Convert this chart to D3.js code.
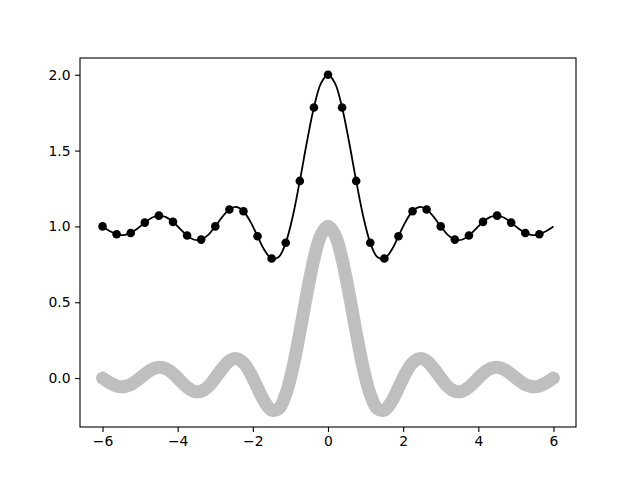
<!DOCTYPE html>
<html><head><meta charset="utf-8">
<script src="https://cdn.jsdelivr.net/npm/d3@7"></script>
<style>body{margin:0;background:#fff}svg{display:block}text{font-family:"DejaVu Sans",sans-serif}</style>
</head><body>
<script>
// x sample positions (step 0.1875 from -6 to 6)
const xValues = [-6,-5.8125,-5.625,-5.4375,-5.25,-5.0625,-4.875,-4.6875,-4.5,-4.3125,-4.125,-3.9375,-3.75,-3.5625,-3.375,-3.1875,-3,-2.8125,-2.625,-2.4375,-2.25,-2.0625,-1.875,-1.6875,-1.5,-1.3125,-1.125,-0.9375,-0.75,-0.5625,-0.375,-0.1875,0,0.1875,0.375,0.5625,0.75,0.9375,1.125,1.3125,1.5,1.6875,1.875,2.0625,2.25,2.4375,2.625,2.8125,3,3.1875,3.375,3.5625,3.75,3.9375,4.125,4.3125,4.5,4.6875,4.875,5.0625,5.25,5.4375,5.625,5.8125,6];
// grey curve values
const greyValues = [0,-0.030,-0.052,-0.057,-0.043,-0.012,0.025,0.057,0.071,0.061,0.030,-0.016,-0.060,-0.088,-0.087,-0.056,0,0.063,0.112,0.128,0.100,0.030,-0.065,-0.157,-0.212,-0.202,-0.108,0.066,0.300,0.555,0.784,0.943,1,0.943,0.784,0.555,0.300,0.066,-0.108,-0.202,-0.212,-0.157,-0.065,0.030,0.100,0.128,0.112,0.063,0,-0.056,-0.087,-0.088,-0.060,-0.016,0.030,0.061,0.071,0.057,0.025,-0.012,-0.043,-0.057,-0.052,-0.030,0];
// black curve values
const blackValues = [1,0.970,0.948,0.943,0.957,0.988,1.025,1.057,1.071,1.061,1.030,0.984,0.940,0.912,0.913,0.944,1,1.063,1.112,1.128,1.100,1.030,0.935,0.843,0.788,0.798,0.892,1.066,1.300,1.555,1.784,1.943,2,1.943,1.784,1.555,1.300,1.066,0.892,0.798,0.788,0.843,0.935,1.030,1.100,1.128,1.112,1.063,1,0.944,0.913,0.912,0.940,0.984,1.030,1.061,1.071,1.057,1.025,0.988,0.957,0.943,0.948,0.970,1];
const xTicks = [-6,-4,-2,0,2,4,6];
const yTicks = [0.0,0.5,1.0,1.5,2.0];

const W=640,H=480, L=80,R=576,T=58,B=427;
const svg=d3.select("body").append("svg").attr("width",W).attr("height",H);
const x=d3.scaleLinear().domain([-6.6,6.6]).range([L,R]);
const y=d3.scaleLinear().domain([-0.3228,2.1106]).range([B,T]);
const pts=xValues.map((v,i)=>({x:v,g:greyValues[i],b:blackValues[i],i}));

const clip=svg.append("clipPath").attr("id","c").append("rect").attr("x",L).attr("y",T).attr("width",R-L).attr("height",B-T);
const g=svg.append("g").attr("clip-path","url(#c)");
g.append("path").datum(pts).attr("fill","none").attr("stroke","#bfbfbf").attr("stroke-width",13)
 .attr("stroke-linecap","round").attr("stroke-linejoin","round")
 .attr("d",d3.line().x(d=>x(d.x)).y(d=>y(d.g)).curve(d3.curveCatmullRom));
g.append("path").datum(pts).attr("fill","none").attr("stroke","#000").attr("stroke-width",1.8)
 .attr("d",d3.line().x(d=>x(d.x)).y(d=>y(d.b)).curve(d3.curveCatmullRom));
g.selectAll("circle").data(pts.filter(d=>d.i%2===0&&d.i<64)).join("circle")
 .attr("cx",d=>x(d.x)).attr("cy",d=>y(d.b)).attr("r",4.3).attr("fill","#000");

const xa=svg.append("g").attr("transform",`translate(0,${B})`)
 .call(d3.axisBottom(x).tickValues(xTicks).tickSize(4.9).tickPadding(4.5).tickFormat(d=>String(d).replace("-","\u2212")));
const ya=svg.append("g").attr("transform",`translate(${L},0)`)
 .call(d3.axisLeft(y).tickValues(yTicks).tickSize(4.9).tickPadding(4.5).tickFormat(d=>d3.format(".1f")(d).replace("-","\u2212")));
[xa,ya].forEach(a=>{a.selectAll("text").attr("font-size",13.9).attr("fill","#000").style("font-family","'DejaVu Sans',sans-serif");
 a.selectAll("line").attr("stroke","#000").attr("stroke-width",1.1);a.select(".domain").remove();});
svg.append("rect").attr("x",L).attr("y",T).attr("width",R-L).attr("height",B-T).attr("fill","none").attr("stroke","#000").attr("stroke-width",1.1);
</script>
</body></html>
